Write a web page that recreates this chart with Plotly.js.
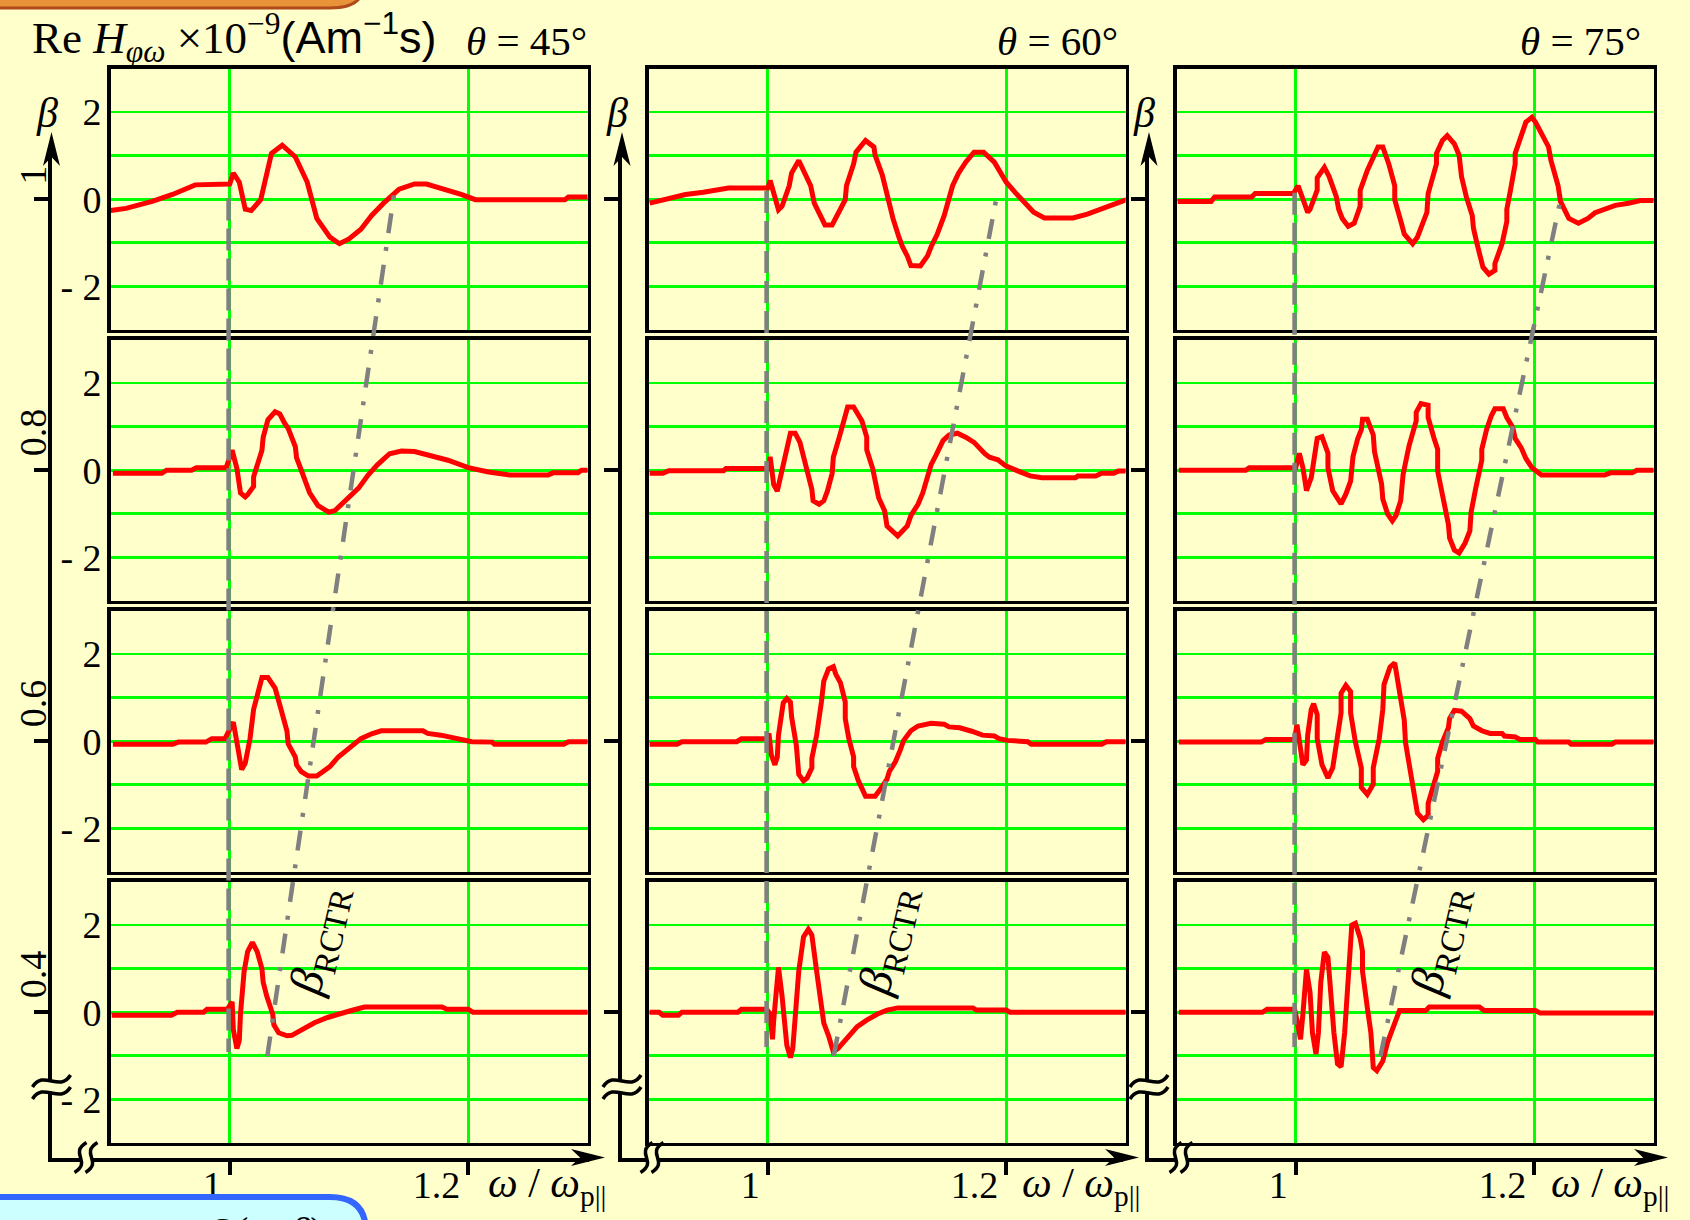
<!DOCTYPE html>
<html><head><meta charset="utf-8">
<script src="https://cdn.plot.ly/plotly-3.0.1.min.js"></script>
<style>html,body{margin:0;padding:0;background:#ffffcc;}#chart{width:1690px;height:1220px;}</style>
</head><body><div id="chart"></div>
<script>
// ---------------- DATA ----------------
const thetas = [45, 60, 75];
const betaRows = [1.0, 0.8, 0.6, 0.4];
const betaTickText = ['1', '0.8', '0.6', '0.4'];
const hTickVals = [-2, 0, 2];
const hTickText = ['- 2', '0', '2'];
const hMinorVals = [-1, 1];
const wGridVals = [1, 1.2];
const wTickText = ['1', '1.2'];

// theta = 45
const w45_b10 = [0.900,0.913,0.935,0.952,0.971,1.000,1.003,1.008,1.013,1.018,1.026,1.029,1.035,1.044,1.055,1.065,1.073,1.084,1.092,1.100,1.110,1.119,1.129,1.142,1.155,1.165,1.181,1.194,1.206,1.226,1.281,1.284,1.302];
const h45_b10 = [-0.26,-0.21,-0.05,0.11,0.33,0.35,0.60,0.39,-0.23,-0.26,-0.01,0.39,1.05,1.24,0.97,0.39,-0.44,-0.87,-1.02,-0.91,-0.69,-0.37,-0.09,0.23,0.35,0.35,0.23,0.11,-0.01,-0.01,-0.01,0.05,0.05];
const w45_b08 = [0.902,0.943,0.947,0.968,0.972,0.997,1.002,1.006,1.009,1.013,1.015,1.020,1.020,1.027,1.028,1.032,1.038,1.042,1.046,1.049,1.055,1.056,1.060,1.064,1.067,1.074,1.083,1.088,1.099,1.108,1.116,1.124,1.134,1.144,1.155,1.169,1.183,1.200,1.217,1.235,1.267,1.271,1.292,1.295,1.301];
const h45_b08 = [-0.07,-0.07,0,0,0.06,0.06,0.46,0.04,-0.52,-0.61,-0.56,-0.37,-0.15,0.46,0.75,1.16,1.34,1.29,1.08,0.96,0.54,0.29,0,-0.33,-0.52,-0.81,-0.96,-0.93,-0.64,-0.41,-0.11,0.13,0.38,0.44,0.43,0.33,0.23,0.06,-0.04,-0.11,-0.11,-0.06,-0.06,0,0];
const w45_b06 = [0.902,0.952,0.957,0.980,0.985,0.996,1.003,1.006,1.010,1.013,1.017,1.020,1.024,1.027,1.032,1.038,1.043,1.048,1.049,1.055,1.056,1.060,1.066,1.073,1.078,1.084,1.091,1.099,1.110,1.119,1.127,1.162,1.166,1.177,1.189,1.203,1.220,1.222,1.280,1.284,1.301];
const h45_b06 = [-0.07,-0.07,-0.02,-0.02,0.06,0.06,0.44,-0.10,-0.65,-0.50,0.06,0.73,1.14,1.46,1.46,1.22,0.73,0.23,-0.06,-0.36,-0.54,-0.70,-0.80,-0.80,-0.70,-0.58,-0.36,-0.19,0.06,0.17,0.24,0.24,0.18,0.14,0.06,-0.01,-0.02,-0.07,-0.07,-0.01,-0.01];
const w45_b04 = [0.901,0.951,0.956,0.978,0.981,0.998,1.002,1.003,1.006,1.008,1.009,1.012,1.015,1.019,1.023,1.027,1.028,1.031,1.036,1.037,1.041,1.048,1.052,1.060,1.071,1.082,1.093,1.102,1.113,1.178,1.182,1.200,1.204,1.301];
const h45_b04 = [-0.07,-0.07,0,0,0.07,0.07,0.24,-0.40,-0.83,-0.65,-0.04,0.93,1.39,1.60,1.39,1.00,0.69,0.37,-0.04,-0.29,-0.47,-0.54,-0.53,-0.40,-0.24,-0.12,-0.02,0.04,0.12,0.12,0.07,0.07,0,0];

// theta = 60
const w60_b10 = [0.901,0.907,0.919,0.931,0.946,0.967,1.000,1.002,1.009,1.012,1.018,1.020,1.026,1.032,1.036,1.039,1.044,1.048,1.054,1.057,1.065,1.066,1.072,1.074,1.082,1.089,1.090,1.096,1.101,1.105,1.110,1.113,1.117,1.120,1.128,1.134,1.137,1.142,1.148,1.152,1.155,1.160,1.166,1.173,1.181,1.190,1.194,1.200,1.208,1.218,1.223,1.232,1.256,1.268,1.280,1.292,1.301];
const h60_b10 = [-0.09,-0.05,0.02,0.11,0.16,0.26,0.26,0.43,-0.24,-0.16,0.31,0.60,0.89,0.56,0.31,-0.09,-0.37,-0.59,-0.59,-0.44,-0.01,0.31,0.81,1.08,1.35,1.20,1.01,0.56,-0.01,-0.44,-0.87,-1.09,-1.30,-1.52,-1.53,-1.30,-1.09,-0.81,-0.37,-0.01,0.31,0.60,0.85,1.08,1.08,0.85,0.68,0.39,0.14,-0.16,-0.30,-0.43,-0.43,-0.34,-0.23,-0.11,-0.01];
const w60_b08 = [0.901,0.912,0.917,0.963,0.965,1.001,1.002,1.005,1.008,1.010,1.016,1.019,1.023,1.027,1.029,1.033,1.037,1.038,1.043,1.047,1.050,1.054,1.055,1.060,1.064,1.067,1.072,1.079,1.083,1.083,1.088,1.092,1.093,1.098,1.100,1.109,1.117,1.120,1.126,1.130,1.134,1.137,1.141,1.147,1.152,1.159,1.166,1.173,1.182,1.186,1.193,1.199,1.210,1.220,1.230,1.258,1.260,1.275,1.280,1.290,1.294,1.301];
const h60_b08 = [-0.07,-0.07,-0.01,-0.01,0.04,0.04,0.31,-0.33,-0.48,-0.26,0.47,0.85,0.85,0.64,0.42,0,-0.44,-0.70,-0.78,-0.70,-0.48,-0.07,0.30,0.76,1.21,1.45,1.45,1.13,0.76,0.47,0.04,-0.41,-0.63,-0.93,-1.28,-1.51,-1.28,-1.04,-0.78,-0.52,-0.19,0.13,0.34,0.68,0.81,0.85,0.76,0.64,0.38,0.30,0.24,0.11,-0.02,-0.13,-0.17,-0.17,-0.13,-0.13,-0.07,-0.07,-0.02,-0.02];
const w60_b06 = [0.901,0.924,0.928,0.974,0.978,0.999,1.001,1.003,1.006,1.008,1.009,1.013,1.016,1.019,1.020,1.024,1.026,1.030,1.033,1.037,1.037,1.041,1.045,1.047,1.051,1.055,1.057,1.061,1.065,1.065,1.068,1.072,1.072,1.076,1.082,1.090,1.095,1.100,1.102,1.107,1.111,1.114,1.120,1.126,1.137,1.148,1.152,1.161,1.171,1.180,1.190,1.194,1.201,1.218,1.221,1.280,1.284,1.301];
const h60_b06 = [-0.07,-0.07,-0.01,-0.01,0.06,0.06,0.18,-0.32,-0.54,-0.36,0.14,0.88,0.98,0.90,0.56,-0.10,-0.76,-0.91,-0.84,-0.61,-0.39,0.14,0.90,1.38,1.66,1.71,1.54,1.34,0.90,0.52,0.06,-0.36,-0.58,-0.91,-1.26,-1.26,-1.08,-0.87,-0.69,-0.47,-0.21,0.02,0.24,0.35,0.41,0.39,0.33,0.31,0.23,0.14,0.12,0.06,0.02,-0.01,-0.07,-0.07,-0.01,-0.01];
const w60_b04 = [0.901,0.909,0.912,0.925,0.928,0.975,0.978,0.999,1.002,1.004,1.005,1.008,1.009,1.012,1.016,1.019,1.021,1.026,1.030,1.034,1.037,1.041,1.046,1.047,1.051,1.055,1.059,1.065,1.070,1.075,1.083,1.092,1.100,1.109,1.172,1.175,1.200,1.203,1.301];
const h60_b04 = [0,0,-0.07,-0.07,0,0,0.07,0.07,-0.04,-0.62,-0.18,1.02,1.03,0.37,-0.76,-1.04,-0.83,0.94,1.73,1.90,1.77,0.94,0.04,-0.25,-0.54,-0.91,-0.83,-0.65,-0.47,-0.33,-0.18,-0.04,0.05,0.10,0.10,0.05,0.05,0,0];

// theta = 75
const w75_b10 = [0.901,0.929,0.932,0.963,0.966,0.998,1.002,1.007,1.010,1.012,1.018,1.018,1.024,1.028,1.034,1.036,1.039,1.044,1.049,1.054,1.054,1.060,1.066,1.069,1.073,1.078,1.083,1.083,1.089,1.091,1.098,1.102,1.110,1.111,1.118,1.118,1.123,1.127,1.133,1.137,1.139,1.143,1.148,1.149,1.152,1.155,1.157,1.162,1.167,1.167,1.173,1.177,1.177,1.180,1.184,1.184,1.190,1.193,1.198,1.201,1.207,1.212,1.214,1.220,1.222,1.225,1.229,1.237,1.245,1.251,1.260,1.268,1.279,1.289,1.301];
const h75_b10 = [-0.05,-0.05,0.05,0.05,0.13,0.13,0.31,-0.09,-0.30,-0.23,0.21,0.49,0.73,0.52,0.06,-0.23,-0.44,-0.62,-0.55,-0.16,0.20,0.66,1.05,1.20,1.20,0.81,0.31,-0.01,-0.59,-0.80,-1.02,-0.87,-0.30,0.13,0.81,1.05,1.35,1.46,1.27,1.01,0.52,0.06,-0.37,-0.66,-1.02,-1.33,-1.56,-1.72,-1.63,-1.48,-1.02,-0.51,-0.23,0.20,0.81,1.05,1.50,1.77,1.88,1.77,1.46,1.20,0.89,0.31,-0.05,-0.23,-0.44,-0.55,-0.44,-0.31,-0.23,-0.14,-0.09,-0.03,-0.03];
const w75_b08 = [0.902,0.958,0.961,1.000,1.003,1.006,1.009,1.013,1.018,1.022,1.027,1.027,1.031,1.038,1.042,1.046,1.048,1.052,1.055,1.056,1.060,1.065,1.066,1.072,1.073,1.077,1.081,1.084,1.088,1.090,1.095,1.101,1.101,1.105,1.111,1.111,1.116,1.119,1.119,1.123,1.128,1.129,1.133,1.137,1.142,1.146,1.147,1.151,1.156,1.156,1.160,1.164,1.167,1.174,1.177,1.182,1.184,1.189,1.193,1.198,1.206,1.259,1.264,1.282,1.286,1.302];
const h75_b08 = [0,0,0.06,0.06,0.39,0.06,-0.47,-0.17,0.73,0.77,0.39,0.06,-0.47,-0.77,-0.55,-0.25,0.31,0.73,0.93,1.17,1.17,0.81,0.43,-0.32,-0.66,-1.00,-1.16,-1.04,-0.70,-0.10,0.56,1.13,1.33,1.53,1.49,1.21,0.73,0.48,-0.02,-0.62,-1.24,-1.55,-1.83,-1.90,-1.67,-1.39,-0.97,-0.40,0.23,0.48,0.93,1.25,1.41,1.41,1.21,0.98,0.73,0.52,0.27,0.06,-0.11,-0.11,-0.06,-0.06,0,0];
const w75_b06 = [0.902,0.971,0.975,0.999,1.001,1.004,1.006,1.009,1.010,1.013,1.015,1.018,1.018,1.022,1.027,1.031,1.035,1.038,1.038,1.042,1.046,1.046,1.050,1.055,1.055,1.060,1.065,1.065,1.070,1.073,1.074,1.079,1.083,1.088,1.091,1.092,1.097,1.101,1.102,1.107,1.111,1.111,1.116,1.119,1.119,1.123,1.128,1.129,1.133,1.139,1.146,1.149,1.156,1.163,1.173,1.175,1.184,1.188,1.201,1.203,1.229,1.231,1.265,1.268,1.302];
const h75_b06 = [-0.02,-0.02,0.04,0.04,0.38,-0.24,-0.54,-0.43,0.14,0.73,0.86,0.61,0.06,-0.54,-0.84,-0.61,0.06,0.65,1.10,1.28,1.14,0.65,-0.02,-0.61,-1.06,-1.22,-0.99,-0.61,0.06,0.73,1.30,1.70,1.80,0.98,0.48,-0.02,-0.84,-1.36,-1.65,-1.80,-1.70,-1.43,-0.99,-0.69,-0.39,-0.02,0.31,0.52,0.71,0.69,0.52,0.35,0.24,0.18,0.18,0.12,0.10,0.04,0.04,-0.02,-0.02,-0.07,-0.07,-0.02,-0.02];
const w75_b04 = [0.902,0.972,0.976,0.999,1.001,1.004,1.006,1.009,1.012,1.014,1.017,1.019,1.021,1.024,1.027,1.029,1.032,1.035,1.038,1.041,1.045,1.047,1.050,1.054,1.056,1.056,1.060,1.063,1.065,1.068,1.073,1.077,1.083,1.087,1.109,1.112,1.154,1.158,1.201,1.205,1.302];
const h75_b04 = [0,0,0.07,0.07,-0.18,-0.62,-0.04,0.98,0.45,-0.47,-0.96,-0.47,0.69,1.38,1.26,0.53,-0.47,-1.18,-1.25,-0.47,0.94,2.00,2.04,1.70,1.39,0.94,0.11,-0.47,-1.27,-1.34,-1.12,-0.69,-0.25,0.04,0.04,0.12,0.12,0.04,0.04,-0.02,-0.02];

// guide lines: plasma cut-off (dashed) and beta_RCTR (dash-dot), per theta column
const cutoffW = [0.999, 0.999, 0.999];
const cutoffTopH = [0.02, 0.19, 0.15];       // read in the beta = 1 panel
const cutoffBottomH = [-0.91, -0.80, -0.80]; // read in the beta = 0.4 panel
const rctrLowW = [1.0315, 1.0553, 1.071];
const rctrLowH = [-1.01, -1.01, -1.01];      // beta = 0.4 panel
const rctrHighW = [1.138, 1.192, 1.222];
const rctrHighH = [0.15, 0.06, -0.01];       // beta = 1 panel

// ---------------- GEOMETRY / STYLE ----------------
const W = 1690, HT = 1220;
const px = v => v / W, py = v => 1 - v / HT;
const P = (x, y) => px(x).toFixed(5) + ',' + py(y).toFixed(5);
const panelLeft = [110.5, 648.5, 1176.5], panelW = 477;
const rowTop = [68.5, 339.5, 610.5, 881.5], rowH = 261.5;
const axisX = [51.5, 622, 1149], arrowTip = [605, 1139, 1668];
const axisBottom = 1157.5, axisTop = 150, arrowTopY = 132;
const pxPerOmega = panelW / 0.4;
const pxPerBeta = (rowTop[1] - rowTop[0]) / 0.2;
const hToBeta = (rowH / 6) / pxPerBeta;
const rowCenter0 = rowTop[0] + rowH / 2;
const betaAt = y => 1 - (y - rowCenter0) / pxPerBeta;
const omegaAt = (c, x) => 0.9 + (x - panelLeft[c]) / pxPerOmega;

const BG = '#ffffcc', SERIF = 'Liberation Serif', SANS = 'Liberation Sans';
const GRAY = '#808080', GREEN = '#00ff00';

const curves = [
  [[w45_b10, h45_b10], [w45_b08, h45_b08], [w45_b06, h45_b06], [w45_b04, h45_b04]],
  [[w60_b10, h60_b10], [w60_b08, h60_b08], [w60_b06, h60_b06], [w60_b04, h60_b04]],
  [[w75_b10, h75_b10], [w75_b08, h75_b08], [w75_b06, h75_b06], [w75_b04, h75_b04]]
];

const traces = [];
const layout = {
  width: W, height: HT, margin: {l: 0, r: 0, t: 0, b: 0},
  paper_bgcolor: BG, plot_bgcolor: 'rgba(0,0,0,0)', showlegend: false,
  shapes: [], annotations: []
};

for (let c = 0; c < 3; c++) {
  for (let r = 0; r < 4; r++) {
    const i = c * 4 + r + 1, s = i === 1 ? '' : String(i);
    traces.push({x: curves[c][r][0], y: curves[c][r][1], xaxis: 'x' + s, yaxis: 'y' + s,
      mode: 'lines', line: {color: '#ff0000', width: 5}, hoverinfo: 'skip'});
    layout['xaxis' + s] = {domain: [px(panelLeft[c]), px(panelLeft[c] + panelW)], range: [0.9, 1.3],
      anchor: 'y' + s, tickvals: wGridVals, showticklabels: false, ticks: '',
      showgrid: true, gridcolor: GREEN, gridwidth: 2.8, zeroline: false,
      showline: true, mirror: true, linecolor: '#000', linewidth: 3.3, fixedrange: true};
    layout['yaxis' + s] = {domain: [py(rowTop[r] + rowH), py(rowTop[r])], range: [-3, 3],
      anchor: 'x' + s, tickvals: hTickVals, ticktext: hTickText, showticklabels: c === 0,
      ticks: '', ticklabelstandoff: -2, tickfont: {family: SERIF, size: 38, color: '#000'},
      showgrid: true, gridcolor: GREEN, gridwidth: 2.8, zeroline: false,
      minor: {tickmode: 'array', tickvals: hMinorVals, showgrid: true, gridcolor: GREEN, gridwidth: 2.8, ticks: ''},
      showline: true, mirror: true, linecolor: '#000', linewidth: 3.3, fixedrange: true};
  }
}

for (let c = 0; c < 3; c++) {
  const k = 13 + c, xs = 'x' + k, ys = 'y' + k;
  const xEnd = arrowTip[c] - 16;
  layout['xaxis' + k] = {domain: [px(axisX[c]), px(xEnd)], range: [omegaAt(c, axisX[c]), omegaAt(c, xEnd)],
    anchor: ys, showline: true, linecolor: '#000', linewidth: 4, ticks: 'outside', ticklen: 13,
    tickwidth: 4, tickcolor: '#000', tickvals: wGridVals, ticktext: wTickText,
    ticklabelposition: 'outside left', ticklabelstandoff: -9, ticklabelshift: -4,
    tickfont: {family: SERIF, size: 38, color: '#000'}, showgrid: false, zeroline: false, fixedrange: true};
  layout['yaxis' + k] = {domain: [py(axisBottom), py(axisTop)], range: [betaAt(axisBottom), betaAt(axisTop)],
    anchor: xs, showline: true, linecolor: '#000', linewidth: 4, ticks: 'outside', ticklen: 14,
    tickwidth: 4, tickcolor: '#000', tickvals: betaRows, showticklabels: false,
    showgrid: false, zeroline: false, fixedrange: true};

  traces.push({x: [cutoffW[c], cutoffW[c]],
    y: [betaRows[0] + cutoffTopH[c] * hToBeta, betaRows[3] + cutoffBottomH[c] * hToBeta],
    xaxis: xs, yaxis: ys, mode: 'lines', line: {color: GRAY, width: 4.5, dash: '22px,8px'}, hoverinfo: 'skip'});
  traces.push({x: [rctrLowW[c], rctrHighW[c]],
    y: [betaRows[3] + rctrLowH[c] * hToBeta, betaRows[0] + rctrHighH[c] * hToBeta],
    xaxis: xs, yaxis: ys, mode: 'lines', line: {color: GRAY, width: 4.5, dash: '20px,14px,4px,14px'}, hoverinfo: 'skip'});

  // arrowheads
  const ax = axisX[c];
  layout.shapes.push({type: 'path', xref: 'paper', yref: 'paper', layer: 'above', fillcolor: '#000', line: {width: 0},
    path: `M ${P(ax, arrowTopY)} L ${P(ax - 8.5, arrowTopY + 34)} L ${P(ax, arrowTopY + 25)} L ${P(ax + 8.5, arrowTopY + 34)} Z`});
  const tx = arrowTip[c];
  layout.shapes.push({type: 'path', xref: 'paper', yref: 'paper', layer: 'above', fillcolor: '#000', line: {width: 0},
    path: `M ${P(tx, axisBottom)} L ${P(tx - 34, axisBottom - 8.5)} L ${P(tx - 25, axisBottom)} L ${P(tx - 34, axisBottom + 8.5)} Z`});

  // axis breaks (vertical axis)
  const by = 1087;
  layout.shapes.push({type: 'rect', xref: 'paper', yref: 'paper', layer: 'above', fillcolor: BG, line: {width: 0},
    x0: px(ax - 5), x1: px(ax + 5), y0: py(by + 6), y1: py(by - 6)});
  [-6, 6].forEach(d => {
    const yy = by + d;
    layout.shapes.push({type: 'path', xref: 'paper', yref: 'paper', layer: 'above', line: {color: '#000', width: 3.5},
      path: `M ${P(ax - 19, yy + 6)} C ${P(ax - 8, yy - 12)} ${P(ax + 8, yy + 12)} ${P(ax + 19, yy - 6)}`});
  });
  // axis breaks (horizontal axis)
  const bx = [86, 652, 1181][c];
  layout.shapes.push({type: 'rect', xref: 'paper', yref: 'paper', layer: 'above', fillcolor: BG, line: {width: 0},
    x0: px(bx - 5), x1: px(bx + 5), y0: py(axisBottom + 5), y1: py(axisBottom - 5)});
  [-5.5, 5.5].forEach(d => {
    const xx = bx + d;
    layout.shapes.push({type: 'path', xref: 'paper', yref: 'paper', layer: 'above', line: {color: '#000', width: 3.5},
      path: `M ${P(xx - 6, axisBottom + 15)} C ${P(xx + 12, axisBottom + 4)} ${P(xx - 12, axisBottom - 4)} ${P(xx + 6, axisBottom - 15)}`});
  });

  // texts
  layout.annotations.push({xref: 'paper', yref: 'paper', x: px(ax - 5), y: py(113), xanchor: 'center', yanchor: 'middle',
    showarrow: false, text: '<i>β</i>', font: {family: SERIF, size: 42, color: '#000'}});
  layout.annotations.push({xref: 'paper', yref: 'paper', x: px([589, 1120, 1643][c]), y: py(16), xanchor: 'right', yanchor: 'top',
    showarrow: false, text: '<i>θ</i> = ' + thetas[c] + '°', font: {family: SERIF, size: 41, color: '#000'}});
  layout.annotations.push({xref: 'paper', yref: 'paper', x: px(arrowTip[c] + 3), y: py(1158), xanchor: 'right', yanchor: 'top',
    showarrow: false, text: '<i>ω</i> / <i>ω</i><sub>p||</sub>', font: {family: SERIF, size: 42, color: '#000'}});
  layout.annotations.push({xref: 'paper', yref: 'paper', x: px([319, 888, 1440][c]), y: py(941), xanchor: 'center', yanchor: 'middle',
    showarrow: false, textangle: -77, text: '<i>β</i><sub>RCTR</sub>', font: {family: SERIF, size: 47, color: '#000'}});
  if (c === 0) {
    betaRows.forEach((b, j) => {
      layout.annotations.push({xref: 'paper', yref: ys, x: px(33), y: b, xanchor: 'center', yanchor: 'bottom', yshift: 12,
        showarrow: false, textangle: -90, text: betaTickText[j], font: {family: SERIF, size: 38, color: '#000'}});
    });
  }
}

// title
layout.annotations.push({xref: 'paper', yref: 'paper', x: px(30), y: py(3), xanchor: 'left', yanchor: 'top', showarrow: false,
  text: 'Re <i>H</i><sub><i>φω</i></sub> ×10<sup>−9</sup><span style="font-family:Liberation Sans">(Am<sup>−1</sup>s)</span>',
  font: {family: SERIF, size: 45, color: '#000'}});

// slide fragments at the edges
layout.shapes.push({type: 'path', xref: 'paper', yref: 'paper', layer: 'above', fillcolor: '#e8923a', line: {color: '#b04a1a', width: 3},
  path: `M ${P(-10, -30)} L ${P(335, -30)} Q ${P(368, -30)} ${P(362, -6)} Q ${P(356, 8)} ${P(330, 8)} L ${P(-10, 8)} Z`});
layout.shapes.push({type: 'path', xref: 'paper', yref: 'paper', layer: 'above', fillcolor: '#ccffff', line: {color: '#3366ff', width: 6},
  path: `M ${P(-10, 1197)} L ${P(330, 1197)} Q ${P(366, 1197)} ${P(366, 1232)} L ${P(366, 1260)} L ${P(-10, 1260)} Z`});
layout.annotations.push({xref: 'paper', yref: 'paper', x: px(265), y: py(1207), xanchor: 'center', yanchor: 'top', showarrow: false,
  text: '<i>Ω</i>(<i>φ</i>, <i>β</i>)', font: {family: SERIF, size: 40, color: '#000'}});

Plotly.newPlot('chart', traces, layout, {staticPlot: true, displayModeBar: false});
</script></body></html>
